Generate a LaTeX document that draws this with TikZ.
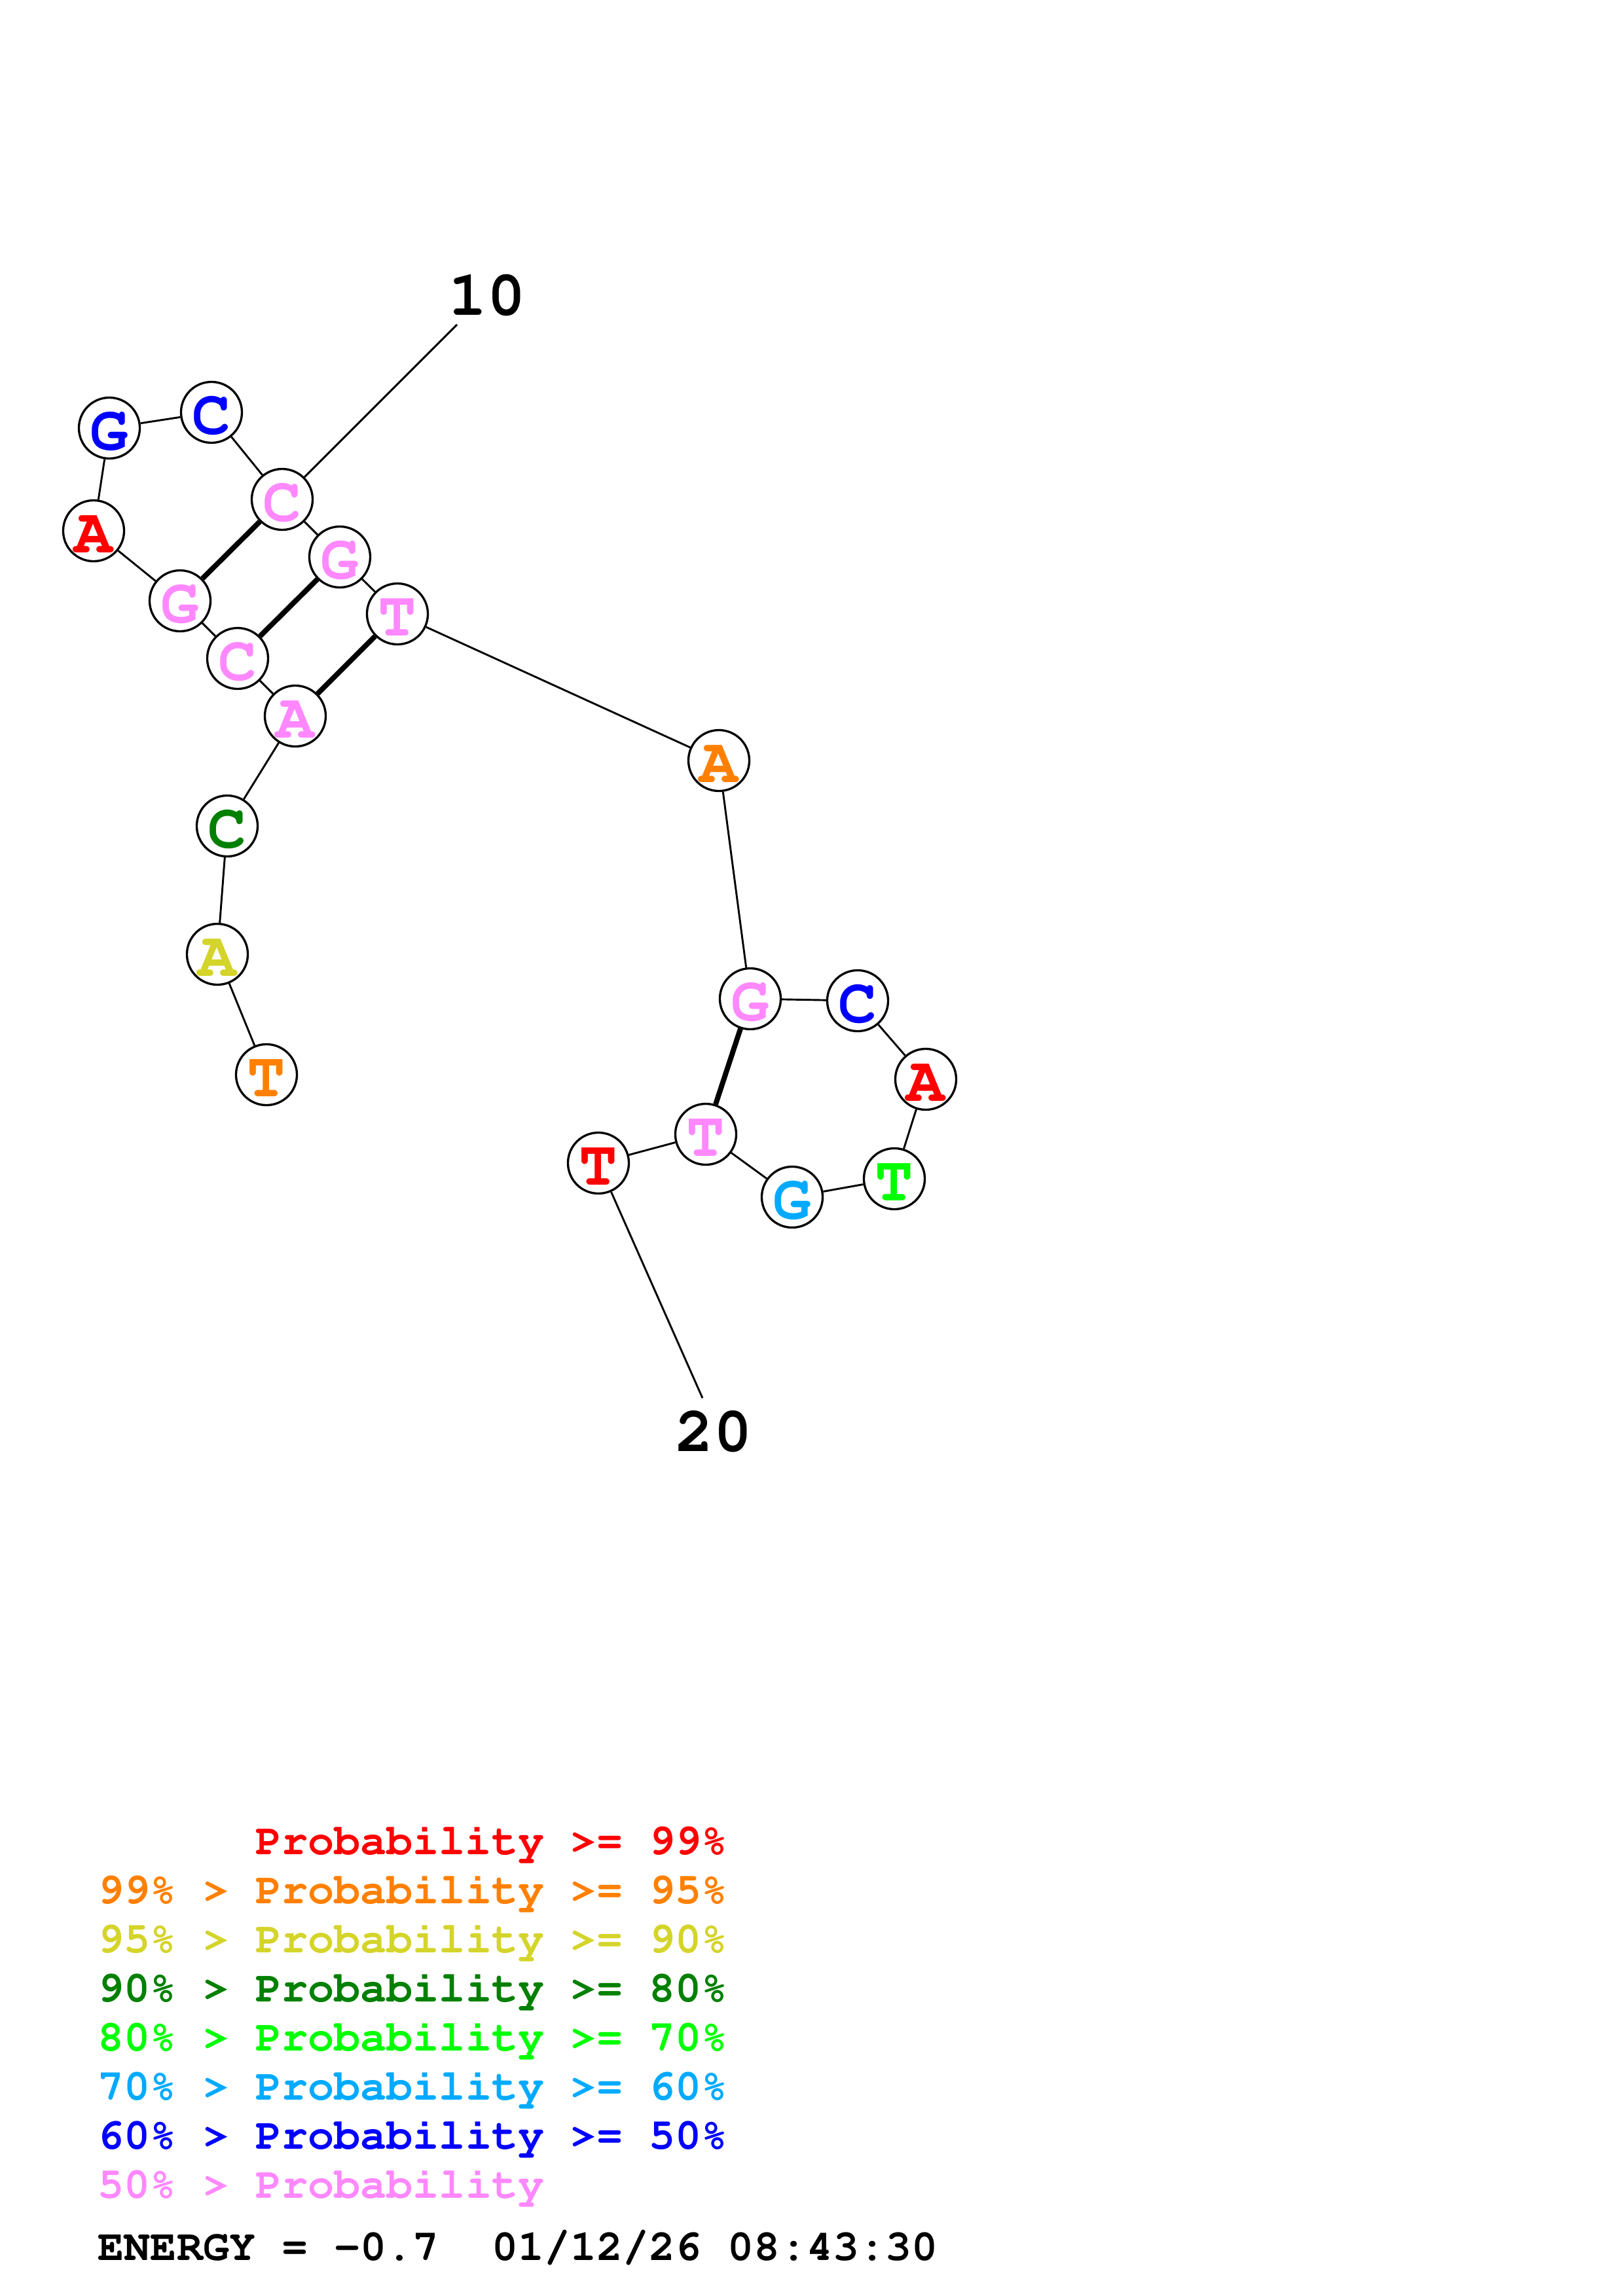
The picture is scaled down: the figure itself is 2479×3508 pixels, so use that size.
\documentclass[tikz,border=0pt]{standalone}
\usepackage[T1]{fontenc}
\definecolor{cred}{RGB}{255,0,0}
\definecolor{corange}{RGB}{255,128,0}
\definecolor{cyellow}{RGB}{212,212,42}
\definecolor{cdkgreen}{RGB}{0,128,0}
\definecolor{cgreen}{RGB}{0,255,0}
\definecolor{ccyan}{RGB}{0,170,255}
\definecolor{cblue}{RGB}{0,0,255}
\definecolor{cpink}{RGB}{255,136,255}
\newcommand\courb{\fontencoding{T1}\fontfamily{pcr}\fontseries{b}\fontshape{n}\selectfont}
\tikzset{
  base/.style={circle, draw=black, line width=0.8bp, fill=white, minimum size=22.34bp,
    inner sep=0pt, font=\courb\fontsize{23.5}{23.5}\selectfont, text height=16.2bp, text depth=0pt},
  bb/.style={line width=0.7bp, black},
  pair/.style={line width=1.9bp, black},
  numlab/.style={inner sep=0pt, font=\courb\fontsize{23.5}{24}\selectfont},
  leg/.style={anchor=base west, inner sep=0pt, font=\courb\fontsize{16.1}{18}\selectfont}
}
\begin{document}
\begin{tikzpicture}[x=0.2401bp, y=-0.2401bp]
\useasboundingbox[fill=white] (0,0) rectangle (2479,3508);
% bases
\node[base, text=corange]  (n1)  at (407,1642) {T};
\node[base, text=cyellow]  (n2)  at (332,1458) {A};
\node[base, text=cdkgreen] (n3)  at (347,1262) {C};
\node[base, text=cpink]    (n4)  at (451,1094) {A};
\node[base, text=cpink]    (n5)  at (363,1006) {C};
\node[base, text=cpink]    (n6)  at (275,918)  {G};
\node[base, text=cred]     (n7)  at (143,811)  {A};
\node[base, text=cblue]    (n8)  at (167,654)  {G};
\node[base, text=cblue]    (n9)  at (323,630)  {C};
\node[base, text=cpink]    (n10) at (431,763)  {C};
\node[base, text=cpink]    (n11) at (519,851)  {G};
\node[base, text=cpink]    (n12) at (607,938)  {T};
\node[base, text=corange]  (n13) at (1098,1162) {A};
\node[base, text=cpink]    (n14) at (1146,1526) {G};
\node[base, text=cblue]    (n15) at (1310,1529) {C};
\node[base, text=cred]     (n16) at (1414,1649) {A};
\node[base, text=cgreen]   (n17) at (1366,1801) {T};
\node[base, text=ccyan]    (n18) at (1210,1829) {G};
\node[base, text=cpink]    (n19) at (1078,1733) {T};
\node[base, text=cred]     (n20) at (914,1777)  {T};
% numbering labels
\coordinate (e10) at (698,496);
\coordinate (e20) at (1073,2136);
\node[numlab] (lab10) at (744,452) {10};
\node[numlab] (lab20) at (1090,2188) {20};
% backbone
\draw[bb] (n1) -- (n2);
\draw[bb] (n2) -- (n3);
\draw[bb] (n3) -- (n4);
\draw[bb] (n4) -- (n5);
\draw[bb] (n5) -- (n6);
\draw[bb] (n6) -- (n7);
\draw[bb] (n7) -- (n8);
\draw[bb] (n8) -- (n9);
\draw[bb] (n9) -- (n10);
\draw[bb] (n10) -- (n11);
\draw[bb] (n11) -- (n12);
\draw[bb] (n12) -- (n13);
\draw[bb] (n13) -- (n14);
\draw[bb] (n14) -- (n15);
\draw[bb] (n15) -- (n16);
\draw[bb] (n16) -- (n17);
\draw[bb] (n17) -- (n18);
\draw[bb] (n18) -- (n19);
\draw[bb] (n19) -- (n20);
\draw[bb] (n10) -- (e10);
\draw[bb] (n20) -- (e20);
% pairs
\draw[pair] (n4) -- (n12);
\draw[pair] (n5) -- (n11);
\draw[pair] (n6) -- (n10);
\draw[pair] (n14) -- (n19);
% legend
\node[leg, text=cred]     (L1) at (149,2833) {\phantom{99\%~>~}Probability~>=~99\%};
\node[leg, text=corange]  (L2) at (149,2908) {99\%~>~Probability~>=~95\%};
\node[leg, text=cyellow]  (L3) at (149,2983) {95\%~>~Probability~>=~90\%};
\node[leg, text=cdkgreen] (L4) at (149,3058) {90\%~>~Probability~>=~80\%};
\node[leg, text=cgreen]   (L5) at (149,3133) {80\%~>~Probability~>=~70\%};
\node[leg, text=ccyan]    (L6) at (149,3208) {70\%~>~Probability~>=~60\%};
\node[leg, text=cblue]    (L7) at (149,3283) {60\%~>~Probability~>=~50\%};
\node[leg, text=cpink]    (L8) at (149,3358) {50\%~>~Probability};
\node[leg, text=black]    (L9) at (149,3453) {ENERGY~=~-0.7~~01/12/26~08:43:30};
\end{tikzpicture}
\end{document}
